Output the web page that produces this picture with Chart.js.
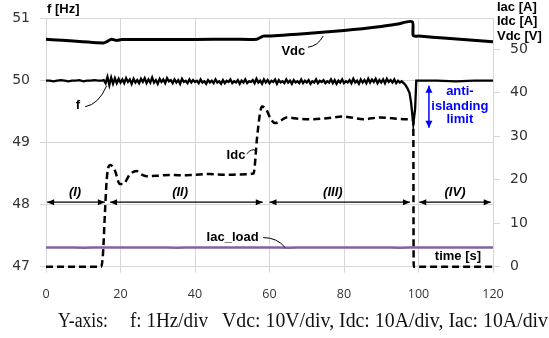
<!DOCTYPE html>
<html><head><meta charset="utf-8">
<script src="https://cdn.jsdelivr.net/npm/chart.js@4/dist/chart.umd.min.js"></script>
<style>html,body{margin:0;padding:0;background:#fff;}#wrap{width:549px;height:338px;position:relative;}</style>
</head><body><div id="wrap"><canvas id="c" width="549" height="338"></canvas></div>
<script>
// ---- tick labels ----
const xTicks = [0, 20, 40, 60, 80, 100, 120];
const fTicks = [47, 48, 49, 50, 51];
const rightTicks = [0, 10, 20, 30, 40, 50];

// ---- Vdc [V] (right axis) ----
const tVdc = [0, 15.4, 16.5, 17.6, 19.0, 20.3, 30, 40, 50, 56.6, 58.3, 60, 65, 70, 75, 80, 85, 90, 94, 98.3, 98.6, 100, 107.6, 120];
const vdc  = [52.3, 51.4, 51.8, 52.3, 52.0, 52.2, 52.2, 52.2, 52.3, 52.3, 53.0, 53.0, 53.3, 53.6, 53.95, 54.3, 54.7, 55.2, 55.7, 56.3, 53.1, 53.0, 52.5, 51.7];

// ---- Idc [A] (right axis) ----
const tIdc = [0, 14.8, 15.3, 15.8, 16.3, 16.8, 17.2, 18.5, 19.8, 20.7, 22.5, 24.3, 25.6, 27, 30, 33.3, 36, 39.5, 44, 48.5, 52, 55.7, 56.7, 57.5, 58, 59.2, 60.3, 61.5, 63, 64.6, 68, 71.8, 76, 79.8, 85.2, 89.7, 93, 96.8, 98.6, 98.7, 100, 110, 120];
const idc  = [0, 0, 3, 12, 20, 23, 23.4, 22.1, 19.0, 19.0, 21.2, 22.0, 21.2, 20.8, 20.9, 21.1, 21.0, 21.1, 21.3, 21.1, 21.2, 21.4, 30, 35.5, 36.8, 36.0, 34.0, 33.0, 33.6, 34.3, 34.0, 33.9, 34.2, 34.5, 33.9, 34.3, 34.1, 33.9, 33.8, 0, 0, 0, 0];

// ---- Iac_load [A] (right axis) ----
const tIac = [0, 5, 10, 15, 20, 25, 30, 35, 40, 45, 50, 55, 60, 65, 70, 75, 80, 85, 90, 95, 100, 105, 110, 115, 120];
const iac  = [4.40, 4.42, 4.38, 4.41, 4.39, 4.42, 4.40, 4.38, 4.41, 4.40, 4.42, 4.39, 4.41, 4.38, 4.40, 4.42, 4.39, 4.41, 4.40, 4.38, 4.41, 4.40, 4.42, 4.39, 4.40];

// ---- f [Hz] (left axis) ----
// part 1: t = 0..15, every 1 s
const fPart1 = [50.00, 50.00, 49.99, 50.00, 50.01, 50.00, 49.99, 50.00, 50.00, 50.01, 49.99, 50.00, 50.00, 50.01, 50.00, 50.00];
// part 2: t = 15.5..96, every 0.5 s
const fPart2 = [
  50.01, 49.96, 50.06, 49.93, 50.05, 49.95, 50.04, 49.96, 50.03, 49.97, 50.02, 49.96, 50.04, 49.98, 50.02, 49.95, 50.03, 49.97, 50.01, 49.96,
  50.03, 49.98, 50.04, 49.96, 50.02, 49.97, 50.05, 49.97, 50.01, 49.95, 50.03, 49.98, 50.02, 49.96, 50.04, 49.99, 50.01, 49.96, 50.02, 49.97,
  50.01, 49.95, 50.03, 49.98, 50.00, 49.96, 50.02, 49.97, 50.01, 49.98, 50.00, 49.96, 50.02, 49.97, 49.99, 49.95, 50.01, 49.97, 50.00, 49.96,
  50.02, 49.97, 49.99, 49.95, 50.01, 49.96, 50.00, 49.98, 50.02, 49.96, 49.99, 49.97, 50.01, 49.95, 50.00, 49.97, 50.02, 49.96, 49.99, 49.98,
  50.01, 49.96, 50.03, 49.97, 50.00, 49.95, 50.02, 49.97, 50.01, 49.96, 50.00, 49.98, 50.02, 49.95, 50.01, 49.97, 49.99, 49.96, 50.02, 49.97,
  50.00, 49.95, 50.01, 49.97, 49.99, 49.96, 50.02, 49.96, 50.00, 49.97, 50.01, 49.95, 49.99, 49.97, 50.02, 49.96, 50.00, 49.98, 50.01, 49.96,
  49.99, 49.97, 50.02, 49.96, 50.01, 49.95, 50.00, 49.97, 50.02, 49.96, 49.99, 49.97, 50.01, 49.96, 50.03, 49.97, 50.00, 49.95, 50.02, 49.97,
  50.01, 49.96, 50.03, 49.97, 50.02, 49.98, 50.03, 49.96, 50.01, 49.97, 50.02, 49.96, 50.03, 49.98, 50.01, 49.97, 50.02, 49.96, 50.00, 49.97,
  49.99, 49.96
];
// part 3: islanding dip and after
const tF3 = [96.5, 97.0, 97.6, 98.0, 98.6, 99.1, 99.4, 100, 105, 110, 115, 120];
const fPart3 = [49.93, 49.88, 49.80, 49.65, 49.30, 49.55, 50.00, 50.00, 50.00, 49.99, 50.00, 50.00];

// ---- text ----
const captionParts = ['Y-axis:', 'f: 1Hz/div', 'Vdc: 10V/div, Idc: 10A/div, Iac: 10A/div'];
const rightTitle = ['Iac [A]', 'Idc [A]', 'Vdc [V]'];
const leftTitle = 'f [Hz]';
const periodNames = ['(I)', '(II)', '(III)', '(IV)'];
const blueText = ['anti-', 'islanding', 'limit'];

// ---- build point lists ----
const zip = (t, v) => t.map((x, i) => ({x, y: v[i]}));
const fPts = [];
fPart1.forEach((v, i) => fPts.push({x: i, y: v}));
fPart2.forEach((v, i) => fPts.push({x: 15.5 + i * 0.5, y: v}));
tF3.forEach((t, i) => fPts.push({x: t, y: fPart3[i]}));

const GRID = '#d6d6d6';
const annot = {
  id: 'annot',
  afterDatasetsDraw(chart) {
    const ctx = chart.ctx, xs = chart.scales.x, ys = chart.scales.yF;
    const X = v => xs.getPixelForValue(v), Y = v => ys.getPixelForValue(v);
    ctx.save();
    const bold = s => 'bold ' + s + 'px "Liberation Sans", Arial, sans-serif';
    ctx.fillStyle = '#000'; ctx.textAlign = 'center'; ctx.textBaseline = 'middle';
    ctx.font = bold(13);
    const lbls = [['Vdc', 66.4, 50.48], ['f', 8.6, 49.6], ['Idc', 51.0, 48.79], ['Iac_load', 50.1, 47.47], ['time [s]', 110.6, 47.16]];
    lbls.forEach(l => ctx.fillText(l[0], X(l[1]), Y(l[2])));
    ctx.strokeStyle = '#000'; ctx.lineWidth = 1;
    const leaders = [
      [70.3, 50.54, 73.0, 50.56, 74.4, 50.72],
      [10.5, 49.58, 14.2, 49.62, 16.3, 49.92],
      [53.9, 48.82, 55.3, 48.92, 56.4, 48.87],
      [58.3, 47.47, 62.0, 47.47, 64.2, 47.31]
    ];
    leaders.forEach(p => { ctx.beginPath(); ctx.moveTo(X(p[0]), Y(p[1])); ctx.quadraticCurveTo(X(p[2]), Y(p[3]), X(p[4]), Y(p[5])); ctx.stroke(); });
    const arrow = (x1, y1, x2, y2, col, w, hl, hw) => {
      ctx.strokeStyle = col; ctx.fillStyle = col; ctx.lineWidth = w;
      ctx.beginPath(); ctx.moveTo(x1, y1); ctx.lineTo(x2, y2); ctx.stroke();
      const head = (ax, ay, bx, by) => {
        const a = Math.atan2(by - ay, bx - ax);
        ctx.beginPath(); ctx.moveTo(bx, by);
        ctx.lineTo(bx - hl * Math.cos(a) + hw * Math.sin(a), by - hl * Math.sin(a) - hw * Math.cos(a));
        ctx.lineTo(bx - hl * Math.cos(a) - hw * Math.sin(a), by - hl * Math.sin(a) + hw * Math.cos(a));
        ctx.closePath(); ctx.fill();
      };
      head(x1, y1, x2, y2); head(x2, y2, x1, y1);
    };
    const spans = [[0.3, 15.8, 7.8], [17.2, 58.2, 36], [60.0, 97.7, 77], [100.2, 119.4, 109.8]];
    ctx.font = 'italic ' + bold(13);
    spans.forEach((s, i) => {
      arrow(X(s[0]), Y(48.04), X(s[1]), Y(48.04), '#000', 1.2, 7, 3);
      ctx.fillStyle = '#000';
      ctx.fillText(periodNames[i], X(s[2]), Y(48.2));
    });
    arrow(X(102.8), Y(49.92), X(102.8), Y(49.24), '#0000ff', 1.5, 7, 3.5);
    ctx.fillStyle = '#0000ff'; ctx.font = bold(13);
    [49.82, 49.59, 49.37].forEach((v, i) => ctx.fillText(blueText[i], X(111.1), Y(v)));
    ctx.restore();
  },
  afterDraw(chart) {
    const ctx = chart.ctx;
    ctx.save();
    ctx.fillStyle = '#000'; ctx.textBaseline = 'middle';
    ctx.font = 'bold 13px "Liberation Sans", Arial, sans-serif';
    ctx.textAlign = 'left';
    ctx.fillText(leftTitle, 47, 9);
    rightTitle.forEach((t, i) => ctx.fillText(t, 497, 7 + i * 14.5));
    ctx.font = '20px "Liberation Serif", "Times New Roman", serif';
    ctx.fillStyle = '#111';
    ctx.fillText(captionParts[0], 58, 322, 50);
    ctx.fillText(captionParts[1], 130, 322, 78);
    ctx.fillText(captionParts[2], 222, 322, 326);
    ctx.restore();
  }
};

new Chart(document.getElementById('c'), {
  type: 'line',
  data: {
    datasets: [
      {label: 'Vdc', data: zip(tVdc, vdc), yAxisID: 'yR', borderColor: '#000', borderWidth: 3, tension: 0.25, clip: 6},
      {label: 'f', data: fPts, yAxisID: 'yF', borderColor: '#000', borderWidth: 2.3, tension: 0, clip: 6},
      {label: 'Idc', data: zip(tIdc, idc), yAxisID: 'yR', borderColor: '#000', borderWidth: 2.5, borderDash: [7, 4], tension: 0.2, cubicInterpolationMode: 'monotone', clip: 6},
      {label: 'Iac_load', data: zip(tIac, iac), yAxisID: 'yR', borderColor: '#8064A2', borderWidth: 2.5, tension: 0.4, clip: 6}
    ]
  },
  options: {
    responsive: false, animation: false, devicePixelRatio: 1,
    elements: {point: {radius: 0}, line: {fill: false}},
    layout: {padding: {top: 18.7, left: 0, right: 0, bottom: 0}},
    plugins: {legend: {display: false}, tooltip: {enabled: false}, title: {display: false}},
    scales: {
      x: {
        type: 'linear', min: 0, max: 120,
        afterBuildTicks: s => { s.ticks = xTicks.map(v => ({value: v})); },
        afterFit: s => { s.height = 71.3; },
        grid: {color: GRID, tickLength: 6, lineWidth: 1},
        border: {color: GRID},
        ticks: {padding: 14, color: '#333', font: {family: '"Open Sans", sans-serif', size: 12.5}, maxRotation: 0}
      },
      yF: {
        type: 'linear', position: 'left', min: 47, max: 51,
        afterBuildTicks: s => { s.ticks = fTicks.map(v => ({value: v})); },
        afterFit: s => { s.width = 46; },
        grid: {color: GRID, tickLength: 6},
        border: {color: GRID},
        ticks: {padding: 10, color: '#333', font: {family: '"DejaVu Sans", sans-serif', size: 14}}
      },
      yR: {
        type: 'linear', position: 'right', min: 0, max: 57,
        afterBuildTicks: s => { s.ticks = rightTicks.map(v => ({value: v})); },
        afterFit: s => { s.width = 56; },
        grid: {drawOnChartArea: false, color: GRID, tickLength: 7},
        border: {color: GRID},
        ticks: {padding: 10, color: '#333', font: {family: '"DejaVu Sans", sans-serif', size: 14}}
      }
    }
  },
  plugins: [annot]
});
</script></body></html>
